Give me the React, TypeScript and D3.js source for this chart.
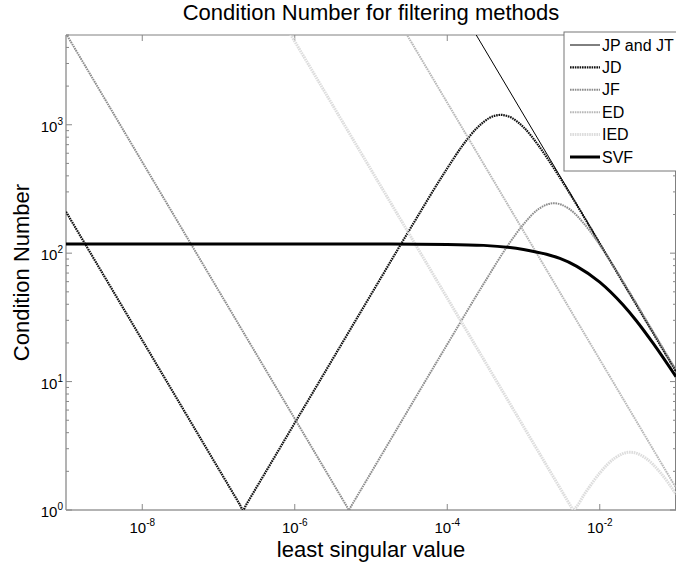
import React from "react";
import * as d3 from "d3";

const W = 676;
const H = 568;
const M = { left: 66, right: 676, top: 35, bottom: 510 };

const xDomain: [number, number] = [1e-9, 1e-1];
const yDomain: [number, number] = [1, 5000];

const xTickValues = [1e-8, 1e-6, 1e-4, 1e-2];
const xTickExps = ["-8", "-6", "-4", "-2"];
const yTickValues = [1, 10, 100, 1000];
const yTickExps = ["0", "1", "2", "3"];

const seriesNames = ["JP and JT", "JD", "JF", "ED", "IED", "SVF"];

const jpData: [number, number][] = [[2e-4, 6000], [1e-1, 12]];

const jdData: [number, number][] = [
  [1e-9, 210], [1e-8, 21], [1.9e-7, 1.105], [2.1e-7, 1], [2.3e-7, 1.095],
  [1e-6, 4.76], [1e-5, 47.6], [3.16e-5, 150], [1e-4, 458], [1.58e-4, 687],
  [2.51e-4, 957], [3.55e-4, 1127], [5.01e-4, 1194], [7.08e-4, 1127],
  [1e-3, 957], [1.58e-3, 687], [2.51e-3, 458], [5.01e-3, 237], [1e-2, 119],
  [3.16e-2, 37.8], [1e-1, 12],
];

const jfData: [number, number][] = [
  [1e-9, 5130], [1e-7, 51.3], [4.8e-6, 1.069], [5.13e-6, 1], [5.5e-6, 1.072],
  [1e-5, 1.95], [1e-4, 19.5], [3.16e-4, 60.7], [6.31e-4, 116], [1e-3, 168],
  [1.58e-3, 221], [2.51e-3, 245], [3.98e-3, 221], [6.31e-3, 168], [1e-2, 116],
  [2e-2, 60.7], [5e-2, 24.5], [1e-1, 12.3],
];

const edData: [number, number][] = [[2e-5, 7430], [1e-1, 1.486]];

const iedData: [number, number][] = [
  [6.3e-7, 7080], [4.2e-3, 1.062], [4.46e-3, 1], [4.75e-3, 1.03],
  [6.31e-3, 1.33], [1e-2, 1.94], [1.58e-2, 2.54], [2.51e-2, 2.82],
  [3.98e-2, 2.54], [6.31e-2, 1.94], [1e-1, 1.33],
];

const svfData: [number, number][] = [
  [1e-9, 118], [1e-5, 118], [1e-4, 117], [3e-4, 115], [1e-3, 107],
  [2e-3, 98], [3e-3, 91], [5e-3, 79], [1e-2, 59.5], [2e-2, 39.8],
  [3e-2, 29.9], [5e-2, 19.9], [1e-1, 10.9],
];

const styles = [
  { color: "#000000", width: 1, dash: "none" },
  { color: "#111111", width: 2.2, dash: "1.6 0.8" },
  { color: "#8c8c8c", width: 2, dash: "1.6 0.8" },
  { color: "#b8b8b8", width: 2, dash: "1.6 0.8" },
  { color: "#dddddd", width: 3, dash: "1.6 0.8" },
  { color: "#000000", width: 3, dash: "none" },
];

const FONT = "'Liberation Sans', Arial, Helvetica, sans-serif";

export default function App() {
  const x = d3.scaleLog().domain(xDomain).range([M.left, M.right]);
  const y = d3.scaleLog().domain(yDomain).range([M.bottom, M.top]);
  const line = d3
    .line<[number, number]>()
    .x((d) => x(d[0]))
    .y((d) => y(d[1]))
    .curve(d3.curveMonotoneX);

  const allData = [jpData, jdData, jfData, edData, iedData, svfData];

  const minorY: number[] = [];
  for (let e = 0; e <= 3; e++) {
    for (let m = 2; m <= 9; m++) {
      const v = m * Math.pow(10, e);
      if (v <= yDomain[1]) minorY.push(v);
    }
  }

  const legendX = 564;
  const legendY = 32;
  const legendRowH = 22.4;

  return (
    <svg
      width={W}
      height={H}
      style={{ position: "absolute", left: 0, top: 0, background: "#fff" }}
      fontFamily={FONT}
    >
      <defs>
        <clipPath id="plotclip">
          <rect x={M.left} y={M.top} width={M.right - M.left} height={M.bottom - M.top} />
        </clipPath>
      </defs>
      <rect x={M.left} y={M.top} width={M.right - M.left} height={M.bottom - M.top} fill="#ffffff" />

      {/* axes box */}
      <line x1={M.left} x2={M.right} y1={M.bottom} y2={M.bottom} stroke="#9a9a9a" strokeWidth={1.5} />
      <line x1={M.left} x2={M.left} y1={M.top} y2={M.bottom} stroke="#9a9a9a" strokeWidth={1.5} />
      <line x1={M.left} x2={M.right} y1={M.top} y2={M.top} stroke="#808080" strokeWidth={1} />
      <line x1={M.right - 0.5} x2={M.right - 0.5} y1={M.top} y2={M.bottom} stroke="#808080" strokeWidth={1} />

      {/* x ticks */}
      {xTickValues.map((v, i) => (
        <g key={"xt" + i}>
          <line x1={x(v)} x2={x(v)} y1={M.bottom} y2={M.bottom - 6} stroke="#888" />
          <line x1={x(v)} x2={x(v)} y1={M.top} y2={M.top + 6} stroke="#888" />
          <text x={x(v)} y={533} textAnchor="middle" fontSize={15} fill="#000">
            10<tspan dy={-7} fontSize={10}>{xTickExps[i]}</tspan>
          </text>
        </g>
      ))}

      {/* y ticks */}
      {yTickValues.map((v, i) => (
        <g key={"yt" + i}>
          <line x1={M.left} x2={M.left + 6} y1={y(v)} y2={y(v)} stroke="#888" />
          <line x1={M.right} x2={M.right - 6} y1={y(v)} y2={y(v)} stroke="#888" />
          <text x={63} y={y(v) + 7} textAnchor="end" fontSize={15} fill="#000">
            10<tspan dy={-7} fontSize={10}>{yTickExps[i]}</tspan>
          </text>
        </g>
      ))}
      {minorY.map((v, i) => (
        <g key={"ym" + i}>
          <line x1={M.left} x2={M.left + 3} y1={y(v)} y2={y(v)} stroke="#888" />
          <line x1={M.right} x2={M.right - 3} y1={y(v)} y2={y(v)} stroke="#888" />
        </g>
      ))}

      {/* series */}
      <g clipPath="url(#plotclip)">
        {allData.map((d, i) => (
          <path
            key={"s" + i}
            d={line(d) || ""}
            fill="none"
            stroke={styles[i].color}
            strokeWidth={styles[i].width}
            strokeDasharray={styles[i].dash}
          />
        ))}
      </g>

      {/* legend */}
      <rect x={legendX} y={legendY} width={130} height={139} fill="#fff" stroke="#777" strokeWidth={1} />
      {seriesNames.map((name, i) => {
        const yy = legendY + 13 + i * legendRowH;
        return (
          <g key={"lg" + i}>
            <line
              x1={legendX + 6}
              x2={legendX + 36}
              y1={yy}
              y2={yy}
              stroke={styles[i].color}
              strokeWidth={styles[i].width}
              strokeDasharray={styles[i].dash}
            />
            <text x={legendX + 38} y={yy + 5.5} fontSize={16} fill="#000">
              {name}
            </text>
          </g>
        );
      })}

      {/* titles */}
      <text x={371} y={20} textAnchor="middle" fontSize={22} fill="#000">
        Condition Number for filtering methods
      </text>
      <text x={371} y={557} textAnchor="middle" fontSize={22} fill="#000">
        least singular value
      </text>
      <text
        transform={`translate(29, ${(M.top + M.bottom) / 2}) rotate(-90)`}
        textAnchor="middle"
        fontSize={22}
        fill="#000"
      >
        Condition Number
      </text>
    </svg>
  );
}
